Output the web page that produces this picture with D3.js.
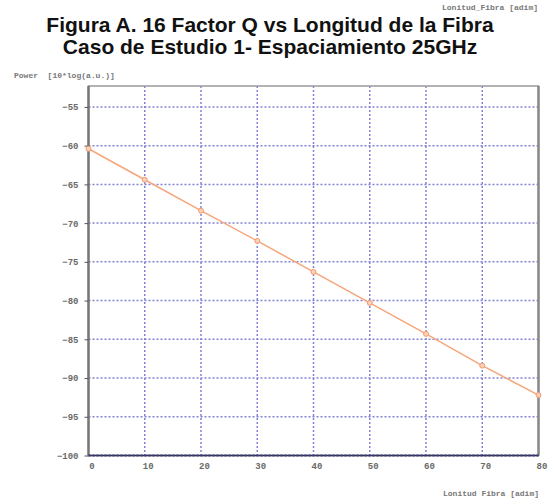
<!DOCTYPE html>
<html>
<head>
<meta charset="utf-8">
<script src="https://cdn.jsdelivr.net/npm/d3@7"></script>
<style>
  body { margin: 0; background: #fff; }
  svg { display: block; }
</style>
</head>
<body>
<svg></svg>
<script>
const WIDTH = 549;
const HEIGHT = 499;

// fibre length [adim] and power [10*log(a.u.)]
const longitud = [0, 10, 20, 30, 40, 50, 60, 70, 80];
const power = [-60.4, -64.4, -68.4, -72.3, -76.3, -80.3, -84.3, -88.4, -92.2];
const xTicks = [0, 10, 20, 30, 40, 50, 60, 70, 80];
const yTicks = [-100, -95, -90, -85, -80, -75, -70, -65, -60, -55];
const titleLines = ['Figura A. 16 Factor Q vs Longitud de la Fibra',
  'Caso de Estudio 1- Espaciamiento 25GHz'];

window.onload = () => {
  const svg = d3.select('svg')
      .attr('width', WIDTH)
      .attr('height', HEIGHT);

  const x = d3.scaleLinear().domain([0, 80]).range([88.5, 538.5]);
  const y = d3.scaleLinear().domain([-100, -52.3]).range([455.5, 86]);

  const mono = '"Liberation Mono", "DejaVu Sans Mono", monospace';

  // grid
  const grid = svg.append('g')
      .attr('stroke', '#8282d2')
      .attr('stroke-width', 1.5)
      .attr('stroke-dasharray', '2,2');
  grid.selectAll('line.h')
      .data(yTicks.filter((d) => d > -100))
      .join('line')
      .attr('x1', x(0)).attr('x2', x(80))
      .attr('y1', (d) => y(d)).attr('y2', (d) => y(d));
  grid.selectAll('line.v')
      .data(xTicks.filter((d) => d > 0 && d < 80))
      .join('line')
      .attr('x1', (d) => x(d)).attr('x2', (d) => x(d))
      .attr('y1', y(-52.3)).attr('y2', y(-100));

  // frame
  svg.append('rect')
      .attr('x', x(0)).attr('y', y(-52.3))
      .attr('width', x(80) - x(0)).attr('height', y(-100) - y(-52.3))
      .attr('fill', 'none')
      .attr('stroke', '#9a9a9a')
      .attr('stroke-width', 1.5);
  svg.append('line')
      .attr('x1', x(0)).attr('x2', x(0))
      .attr('y1', y(-52.3)).attr('y2', y(-100))
      .attr('stroke', '#777').attr('stroke-width', 2.5);
  svg.append('line')
      .attr('x1', x(80)).attr('x2', x(80))
      .attr('y1', y(-52.3)).attr('y2', y(-100))
      .attr('stroke', '#8a8a8a').attr('stroke-width', 2.5);
  svg.append('line')
      .attr('x1', x(0)).attr('x2', x(80))
      .attr('y1', y(-100)).attr('y2', y(-100))
      .attr('stroke', '#333').attr('stroke-width', 1.5);
  svg.append('line')
      .attr('x1', x(0)).attr('x2', x(80))
      .attr('y1', y(-100)).attr('y2', y(-100))
      .attr('stroke', '#3a3a99').attr('stroke-width', 2)
      .attr('stroke-dasharray', '2,2');

  // axes
  const yAxis = svg.append('g')
      .attr('transform', `translate(${x(0)},0)`)
      .call(d3.axisLeft(y).tickValues(yTicks).tickSize(4).tickPadding(6));
  const xAxis = svg.append('g')
      .attr('transform', `translate(0,${y(-100)})`)
      .call(d3.axisBottom(x).tickValues(xTicks).tickSize(0).tickPadding(7));
  [yAxis, xAxis].forEach((a) => {
    a.select('.domain').remove();
    a.selectAll('line').attr('stroke', '#555');
    a.selectAll('text')
        .attr('font-family', mono)
        .attr('font-size', 9)
        .attr('font-weight', 'bold')
        .attr('fill', '#6a6a6a');
  });
  xAxis.selectAll('text').attr('dx', 3);

  // series
  svg.append('path')
      .datum(longitud.map((d, i) => [d, power[i]]))
      .attr('fill', 'none')
      .attr('stroke', '#f7a57a')
      .attr('stroke-width', 1.5)
      .attr('d', d3.line().x((d) => x(d[0])).y((d) => y(d[1])));
  svg.selectAll('circle.pt')
      .data(longitud.map((d, i) => [d, power[i]]))
      .join('circle')
      .attr('cx', (d) => x(d[0]))
      .attr('cy', (d) => y(d[1]))
      .attr('r', 2.5)
      .attr('fill', '#fbd3bd')
      .attr('stroke', '#f29a6c')
      .attr('stroke-width', 1);

  // texts
  svg.selectAll('text.title')
      .data(titleLines)
      .join('text')
      .attr('x', 270)
      .attr('y', (d, i) => 32 + i * 22)
      .attr('text-anchor', 'middle')
      .attr('font-family', 'Liberation Sans, Arial, sans-serif')
      .attr('font-weight', 'bold')
      .attr('font-size', 21)
      .attr('fill', '#111')
      .text((d) => d);

  const small = (t, xx, yy, anchor) => svg.append('text')
      .attr('x', xx).attr('y', yy)
      .attr('text-anchor', anchor)
      .attr('font-family', mono)
      .attr('font-size', 8)
      .attr('font-weight', 'bold')
      .attr('fill', '#777')
      .attr('xml:space', 'preserve')
      .text(t);
  small('Lonitud_Fibra [adim]', 538, 10, 'end');
  small('Power  [10*log(a.u.)]', 14, 78, 'start');
  small('Lonitud Fibra [adim]', 539, 496, 'end');
};
</script>
</body>
</html>
